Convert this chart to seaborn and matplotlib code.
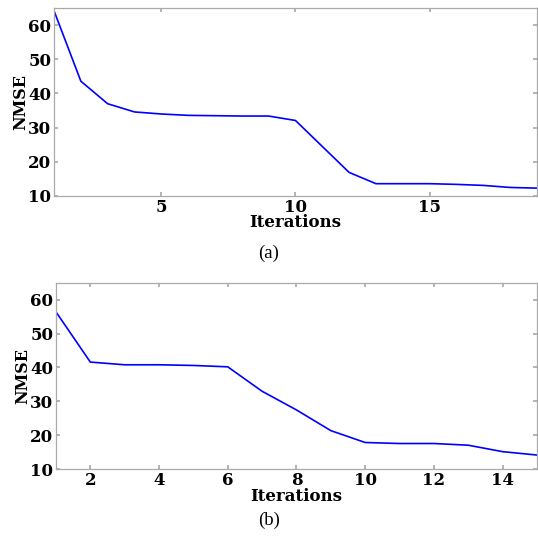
import numpy as np
import pandas as pd
import matplotlib
matplotlib.use("Agg")
import matplotlib.pyplot as plt
import seaborn as sns

# --- data ---
iters_a = list(range(1, 20))
nmse_a = [64.2, 43.6, 37.0, 34.6, 34.0, 33.6, 33.5, 33.4, 33.4, 32.1,
          24.5, 16.9, 13.6, 13.6, 13.6, 13.4, 13.1, 12.5, 12.3]

iters_b = list(range(1, 16))
nmse_b = [56.4, 41.6, 40.8, 40.8, 40.6, 40.2, 33.0, 27.5, 21.4, 17.9,
          17.6, 17.6, 17.1, 15.2, 14.2]

xticks_a = [5, 10, 15]
xticks_b = [2, 4, 6, 8, 10, 12, 14]
yticks = [10, 20, 30, 40, 50, 60]

sns.set_theme(style="white")
plt.rcParams['font.family'] = ['DejaVu Serif']
plt.rcParams['text.color'] = 'black'
plt.rcParams['axes.labelcolor'] = 'black'
plt.rcParams['xtick.labelcolor'] = 'black'
plt.rcParams['ytick.labelcolor'] = 'black'

fig = plt.figure(figsize=(5.38, 5.38), dpi=100)
ax_a = fig.add_axes([0.1004, 0.6357, 0.8976, 0.3493])
ax_b = fig.add_axes([0.104, 0.1277, 0.894, 0.3469])

panels = [
    (ax_a, iters_a, nmse_a, xticks_a, (1, 19), "(a)", 0.529),
    (ax_b, iters_b, nmse_b, xticks_b, (1, 15), "(b)", 0.033),
]

for ax, xs, ys, xt, xl, cap, cap_y in panels:
    df = pd.DataFrame({"Iterations": xs, "NMSE": ys})
    sns.lineplot(data=df, x="Iterations", y="NMSE", ax=ax,
                 color="#0000ff", linewidth=1.2)
    ax.set_xlim(*xl)
    ax.set_ylim(10, 65)
    ax.set_xticks(xt)
    ax.set_yticks(yticks)
    ax.tick_params(direction="in", length=3, color="#aaaaaa",
                   top=True, right=True, bottom=True, left=True,
                   labelsize=12, pad=2)
    for lab in ax.get_xticklabels() + ax.get_yticklabels():
        lab.set_fontweight("bold")
    for sp in ax.spines.values():
        sp.set_color("#aaaaaa")
        sp.set_linewidth(0.9)
    ax.set_xlabel("Iterations", fontsize=12, fontweight="bold", labelpad=-1)
    ax.set_ylabel("NMSE", fontsize=11.5, fontweight="bold", labelpad=-1)
    fig.text(0.5, cap_y, cap, ha="center", va="center",
             fontsize=13.5, family="Liberation Serif")

fig.savefig("out.png", dpi=100)
